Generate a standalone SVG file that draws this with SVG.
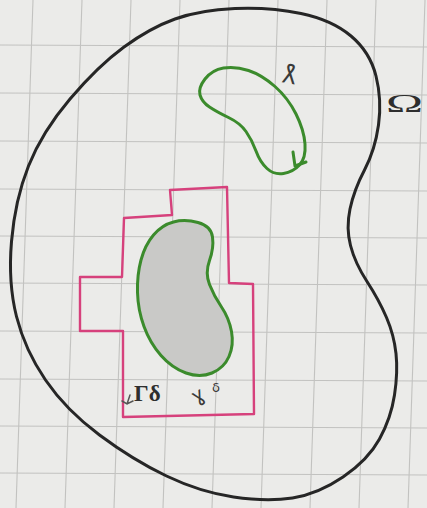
<svg xmlns="http://www.w3.org/2000/svg" width="427" height="508" viewBox="0 0 427 508">
<style>
.grid line{stroke:#c2c2c0;stroke-width:1.1}
.outer{fill:none;stroke:#262626;stroke-width:3;stroke-linejoin:round}
.green{stroke:#3b8b2c;stroke-width:3;stroke-linejoin:round;stroke-linecap:round}
.pink{fill:none;stroke:#d6417c;stroke-width:2.4;stroke-linejoin:round}
.lbl{font-family:"Liberation Serif",serif;fill:#2e2e2e}
.hand{font-family:"DejaVu Sans",sans-serif;fill:#3a3a3a}
</style>
<rect width="427" height="508" fill="#ebebe9"/>
<g class="grid" id="grid">
<line x1="33" y1="0" x2="16" y2="508"/>
<line x1="82" y1="0" x2="65" y2="508"/>
<line x1="131" y1="0" x2="114" y2="508"/>
<line x1="180" y1="0" x2="163" y2="508"/>
<line x1="229" y1="0" x2="212" y2="508"/>
<line x1="278" y1="0" x2="261" y2="508"/>
<line x1="327" y1="0" x2="310" y2="508"/>
<line x1="376" y1="0" x2="359" y2="508"/>
<line x1="425" y1="0" x2="408" y2="508"/>
<line x1="0" y1="45" x2="427" y2="47"/>
<line x1="0" y1="93" x2="427" y2="95"/>
<line x1="0" y1="141" x2="427" y2="143"/>
<line x1="0" y1="189" x2="427" y2="191"/>
<line x1="0" y1="236" x2="427" y2="238"/>
<line x1="0" y1="283" x2="427" y2="285"/>
<line x1="0" y1="331" x2="427" y2="333"/>
<line x1="0" y1="379" x2="427" y2="381"/>
<line x1="0" y1="426" x2="427" y2="428"/>
<line x1="0" y1="473" x2="427" y2="475"/>
</g>
<g id="omega">
<path class="outer" d="M 175 19 Q 200 10 235 8.5 Q 270 7 301 13.5 Q 332 20 351 36 Q 370 52 376 76 Q 382 100 378.5 125 Q 375 150 364.5 170 Q 354 190 350 209 Q 346 228 350.5 245.5 Q 355 263 367 281.5 Q 379 300 386.5 317.5 Q 394 335 396 353.5 Q 398 372 394.5 395 Q 391 418 379.5 439 Q 368 460 343 477 Q 318 494 292.5 498 Q 267 502 233.5 497 Q 200 492 166.5 476 Q 133 460 99.5 435 Q 66 410 45.5 380 Q 25 350 16.5 316.5 Q 8 283 11.5 241.5 Q 15 200 28.5 166 Q 42 132 70 99 Q 98 66 124 47 Q 150 28 175 19 Z"/>
<text class="lbl" x="386" y="112" font-size="26" textLength="37" lengthAdjust="spacingAndGlyphs">Ω</text>
</g>
<g id="gamma">
<path class="green" fill="none" d="M 200 95 Q 198 88 205 79 Q 212 70 223.5 68 Q 235 66 248.5 70.5 Q 262 75 275 86.5 Q 288 98 296 114 Q 304 130 305 144 Q 306 158 299.5 165 Q 293 172 283.5 173.5 Q 274 175 267 168.5 Q 260 162 256 151 Q 252 140 246 131.5 Q 240 123 228.5 117.5 Q 217 112 209.5 107 Q 202 102 200 95 Z"/>
<path class="green" fill="none" stroke-width="2" d="M 293 152 L 295 166 L 306 162"/>
<text class="hand" transform="translate(283,68) scale(1,-1) rotate(-10)" font-size="26">ɣ</text>
</g>
<g id="gamma-delta">
<path class="pink" d="M 170 190 L 227 187 L 229 283 L 253 284 L 254 414 L 123 417 L 123 331 L 80 331 L 80 277 L 122 277 L 124 218 L 172 215 Z"/>
<path fill="none" stroke="#555" stroke-width="1.5" stroke-linecap="round" d="M 130 395 L 127 404 M 122 401 L 127 404 L 133 401"/>
<text class="lbl" x="134" y="401" font-size="23" font-weight="bold">Γδ</text>
</g>
<g id="omega-delta">
<path class="green" fill="#c9c9c7" d="M 173.5 222 Q 185 219 198 222.5 Q 211 226 212.5 237 Q 214 248 209.5 260.5 Q 205 273 209.5 284.5 Q 214 296 221.5 307 Q 229 318 231.5 331.5 Q 234 345 229 356.5 Q 224 368 212 373 Q 200 378 186 373 Q 172 368 161 355.5 Q 150 343 144 326.5 Q 138 310 137.5 292.5 Q 137 275 141 260 Q 145 245 153.5 235 Q 162 225 173.5 222 Z"/>
<text class="hand" transform="translate(196,404) rotate(-30)" font-size="20">ɣ</text>
<text class="hand" x="212" y="392" font-size="13">δ</text>
</g>
</svg>
